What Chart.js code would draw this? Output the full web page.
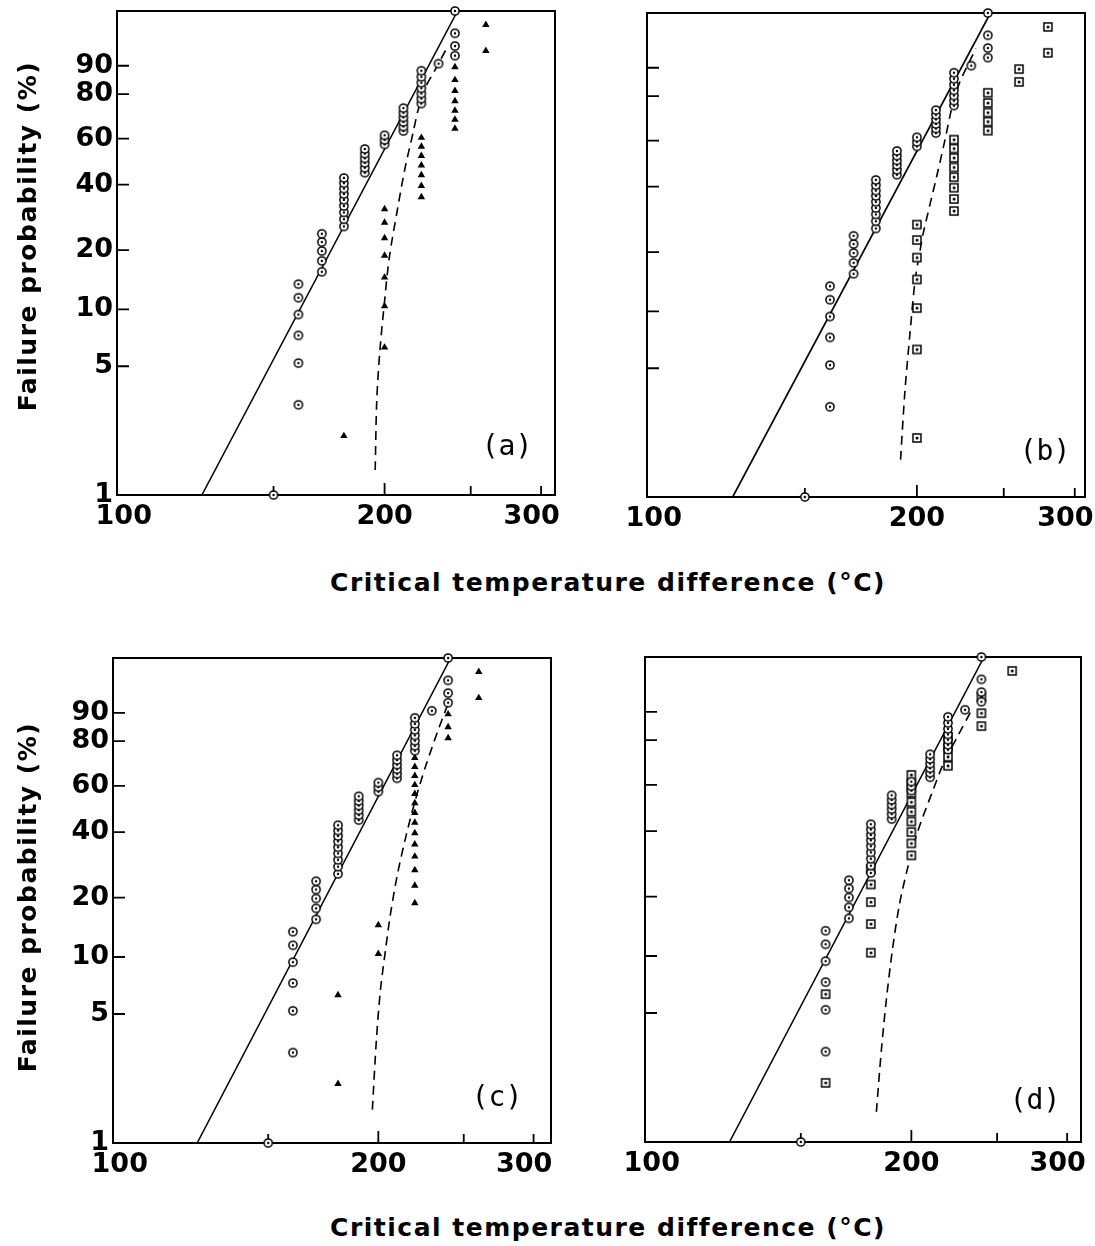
<!DOCTYPE html>
<html>
<head>
<meta charset="utf-8">
<script src="https://cdn.jsdelivr.net/npm/chart.js@4.4.1/dist/chart.umd.min.js"></script>
<style>
  html, body { margin: 0; padding: 0; background: #fff; }
  body { width: 1095px; height: 1246px; position: relative; overflow: hidden; }
  canvas { position: absolute; }
  .xt, .yt {
    position: absolute; color: #000; white-space: nowrap; text-align: center;
    font-family: "DejaVu Sans", sans-serif; font-weight: bold; font-size: 25px;
    letter-spacing: 1.5px; height: 30px; line-height: 30px;
  }
  .xt { left: 208px; width: 800px; }
  .yt { width: 420px; left: -182px; transform: rotate(-90deg); }
</style>
</head>
<body>
<canvas id="pa" width="580" height="540" style="left:0px;top:0px"></canvas>
<canvas id="pb" width="565" height="542" style="left:530px;top:0px"></canvas>
<canvas id="pc" width="580" height="543" style="left:0px;top:645px"></canvas>
<canvas id="pd" width="565" height="542" style="left:530px;top:645px"></canvas>

<div class="yt" style="top:221px">Failure probability (%)</div>
<div class="yt" style="top:882px">Failure probability (%)</div>
<div class="xt" style="top:568px">Critical temperature difference (°C)</div>
<div class="xt" style="top:1213px">Critical temperature difference (°C)</div>

<script>
// axis ticks
const yTickPct = [1, 5, 10, 20, 40, 60, 80, 90];
const xTickLabels = [100, 200, 300];
const xTickMarks = [150, 200, 250, 300];

// open circles (reference set), identical in all four panels
const refTemp = [150,
  160, 160, 160, 160, 160, 160,
  170, 170, 170, 170, 170,
  180, 180, 180, 180, 180, 180, 180, 180, 180,
  190, 190, 190, 190, 190, 190,
  200, 200, 200,
  210, 210, 210, 210, 210, 210,
  220, 220, 220, 220, 220, 220, 220,
  230,
  240, 240, 240, 240];
const refProb = [1.0,
  3.1, 5.2, 7.3, 9.4, 11.5, 13.5,
  15.6, 17.7, 19.8, 21.9, 24.0,
  26.0, 28.1, 30.2, 32.3, 34.4, 36.5, 38.5, 40.6, 42.7,
  44.8, 46.9, 49.0, 51.0, 53.1, 55.2,
  57.3, 59.4, 61.5,
  63.5, 65.6, 67.7, 69.8, 71.9, 74.0,
  76.0, 78.1, 80.2, 82.3, 84.4, 86.5, 88.5,
  90.6,
  92.7, 94.8, 96.9, 99.0];

// solid fitted line for the reference set
const fitTemp = [124.6, 241.6];
const fitProb = [1, 99];

// second-batch probabilities (24 specimens), shared by the four panels
const rankProb = [2.1, 6.3, 10.4, 14.6, 18.8, 22.9, 27.1, 31.3, 35.4, 39.6, 43.8, 47.9,
  52.1, 56.3, 60.4, 64.6, 68.8, 72.9, 77.1, 81.3, 85.4, 89.6, 93.8, 97.9];

// (a) triangles
const aTemp = [180, 200, 200, 200, 200, 200, 200, 200, 220, 220, 220, 220, 220, 220, 220,
  240, 240, 240, 240, 240, 240, 240, 260, 260];
const aCurveTemp = [195.2, 196.0, 197.6, 199.7, 202.4, 206.9, 210.9, 215.3, 218.1, 222.1, 227.9, 235.0];
const aCurveProb = [1.37, 3.3, 6.1, 10.3, 18.2, 31.6, 46.8, 62.6, 73.0, 82.3, 88.7, 94.4];

// (b) squares
const bTemp = [200, 200, 200, 200, 200, 200, 200, 220, 220, 220, 220, 220, 220, 220, 220,
  240, 240, 240, 240, 240, 260, 260, 280, 280];
const bCurveTemp = [191.8, 193.9, 196.5, 199.1, 201.7, 203.3, 210.4, 214.9, 218.5, 223.1, 232.7];
const bCurveProb = [1.6, 3.7, 7.7, 14.5, 20.5, 24.7, 44, 60, 74, 85, 94.7];

// (c) triangles
const cTemp = [180, 180, 200, 200, 220, 220, 220, 220, 220, 220, 220, 220, 220, 220, 220,
  220, 220, 220, 220, 240, 240, 240, 260, 260];
const cCurveTemp = [196.9, 199.0, 201.1, 203.8, 206.4, 210.2, 215.3, 220.4, 226.2, 233.4, 240.9];
const cCurveProb = [1.52, 3.64, 6.7, 10.9, 16.5, 25.8, 39.3, 53.8, 68.8, 83.6, 93.4];

// (d) squares
const dTemp = [160, 160, 180, 180, 180, 180, 180, 200, 200, 200, 200, 200, 200, 200, 200, 200,
  220, 220, 220, 220, 240, 240, 240, 260];
const dCurveTemp = [182.6, 185.0, 187.4, 190.4, 193.9, 197.9, 203.2, 211.3, 217.9, 225.4, 233.7];
const dCurveProb = [1.46, 3.17, 5.88, 10.8, 18.3, 27.0, 39.5, 56.9, 70.7, 81.3, 90.3];

// Weibull probability axis: ln(-ln(1-F))
const weib = p => Math.log(-Math.log(1 - p / 100));
const unweib = v => 100 * (1 - Math.exp(-Math.exp(v)));
const pts = (xs, ps) => xs.map((x, i) => ({ x: x, y: weib(ps[i]) }));

// marker sprites
function sprite(draw) {
  const c = document.createElement('canvas');
  c.width = 12; c.height = 12;
  const g = c.getContext('2d');
  g.strokeStyle = '#000'; g.fillStyle = '#fff'; g.lineWidth = 1.5;
  draw(g);
  return c;
}
const circleImg = sprite(g => {
  g.beginPath(); g.arc(6, 6, 4.1, 0, Math.PI * 2); g.fill(); g.stroke();
  g.fillStyle = '#000'; g.beginPath(); g.arc(6, 6, 1.2, 0, Math.PI * 2); g.fill();
});
const squareImg = sprite(g => {
  g.fillRect(2, 2, 8, 8); g.strokeRect(2, 2, 8, 8);
  g.fillStyle = '#000'; g.fillRect(4.8, 4.8, 2.6, 2.6);
});

const frameTicks = {
  id: 'frameTicks',
  beforeDatasetsDraw(chart) {
    const { ctx, chartArea: a, scales } = chart;
    ctx.save();
    ctx.strokeStyle = '#000';
    ctx.lineWidth = 2;
    ctx.strokeRect(a.left, a.top, a.right - a.left, a.bottom - a.top);
    ctx.lineWidth = 1.8;
    ctx.beginPath();
    yTickPct.slice(1).forEach(p => {
      const y = scales.y.getPixelForValue(weib(p));
      ctx.moveTo(a.left, y); ctx.lineTo(a.left + 12, y);
    });
    xTickMarks.forEach(v => {
      const x = scales.x.getPixelForValue(v);
      ctx.moveTo(x, a.bottom); ctx.lineTo(x, a.bottom - (v === 200 ? 12 : 9));
    });
    ctx.stroke();
    ctx.restore();
  },
  afterDraw(chart, args, opts) {
    const { ctx, chartArea: a } = chart;
    ctx.save();
    ctx.fillStyle = '#000';
    ctx.font = '28px "DejaVu Sans Mono", monospace';
    ctx.textAlign = 'center';
    ctx.textBaseline = 'middle';
    ctx.fillText(opts.tag, a.right - opts.dx, a.bottom - opts.dy);
    ctx.restore();
  }
};

const tickFont = { family: 'DejaVu Sans', weight: 'bold', size: 27 };

// the printed 100 sits a little right of its tick, 300 a little left
const xLabel = v => v === 100 ? '\u2002' + v : v === 300 ? v + '\u2002\u2009' : String(v);

function panel(id, cfg) {
  new Chart(document.getElementById(id), {
    type: 'scatter',
    data: {
      datasets: [
        { data: pts(refTemp, refProb), pointStyle: circleImg, clip: false },
        cfg.square
          ? { data: pts(cfg.temp, rankProb), pointStyle: squareImg, clip: false }
          : { data: pts(cfg.temp, rankProb), pointStyle: 'triangle', pointRadius: 4.3,
              backgroundColor: '#000', borderWidth: 0, clip: false },
        { data: pts(fitTemp, fitProb), showLine: true, pointRadius: 0,
          borderColor: '#000', borderWidth: 1.6, clip: false },
        { data: pts(cfg.curveTemp, cfg.curveProb), showLine: true, pointRadius: 0,
          borderColor: '#000', borderWidth: 1.6, borderDash: [9, 6], tension: 0.3, clip: false }
      ]
    },
    options: {
      responsive: false,
      animation: false,
      events: [],
      layout: { padding: { left: 0, top: cfg.padTop, right: cfg.padRight, bottom: 0 } },
      plugins: {
        legend: { display: false },
        tooltip: { enabled: false },
        frameTicks: { tag: cfg.tag, dx: cfg.tagDx, dy: cfg.tagDy }
      },
      scales: {
        x: {
          type: 'logarithmic',
          min: 100, max: cfg.xMax,
          afterBuildTicks: s => { s.ticks = xTickLabels.map(v => ({ value: v })); },
          afterFit: s => { s.height = cfg.xAxisH; s.paddingLeft = 0; s.paddingRight = 0; },
          ticks: { autoSkip: false, maxRotation: 0, padding: 6, color: '#000', font: tickFont,
                   callback: v => xLabel(v) },
          grid: { display: false, drawTicks: false }, border: { display: false }
        },
        y: {
          min: weib(1), max: weib(99),
          afterBuildTicks: s => { s.ticks = yTickPct.map(p => ({ value: weib(p) })); },
          afterFit: s => { s.width = cfg.yAxisW; s.paddingTop = 0; s.paddingBottom = 0; },
          ticks: { display: cfg.yLabels, padding: 4, color: '#000', font: tickFont,
                   callback: v => String(Math.round(unweib(v))) },
          grid: { display: false, drawTicks: false }, border: { display: false }
        }
      }
    },
    plugins: [frameTicks]
  });
}

panel('pa', { tag: '(a)', temp: aTemp, curveTemp: aCurveTemp, curveProb: aCurveProb, square: false,
  xMax: 311, yLabels: true, yAxisW: 117, xAxisH: 45, padTop: 11, padRight: 25, tagDx: 48, tagDy: 47 });
panel('pb', { tag: '(b)', temp: bTemp, curveTemp: bCurveTemp, curveProb: bCurveProb, square: true,
  xMax: 308, yLabels: false, yAxisW: 117, xAxisH: 45, padTop: 13, padRight: 10, tagDx: 40, tagDy: 44 });
panel('pc', { tag: '(c)', temp: cTemp, curveTemp: cCurveTemp, curveProb: cCurveProb, square: false,
  xMax: 314, yLabels: true, yAxisW: 113, xAxisH: 45, padTop: 13, padRight: 29, tagDx: 54, tagDy: 44 });
panel('pd', { tag: '(d)', temp: dTemp, curveTemp: dCurveTemp, curveProb: dCurveProb, square: true,
  xMax: 311, yLabels: false, yAxisW: 115, xAxisH: 45, padTop: 12, padRight: 14, tagDx: 46, tagDy: 40 });
</script>
</body>
</html>
